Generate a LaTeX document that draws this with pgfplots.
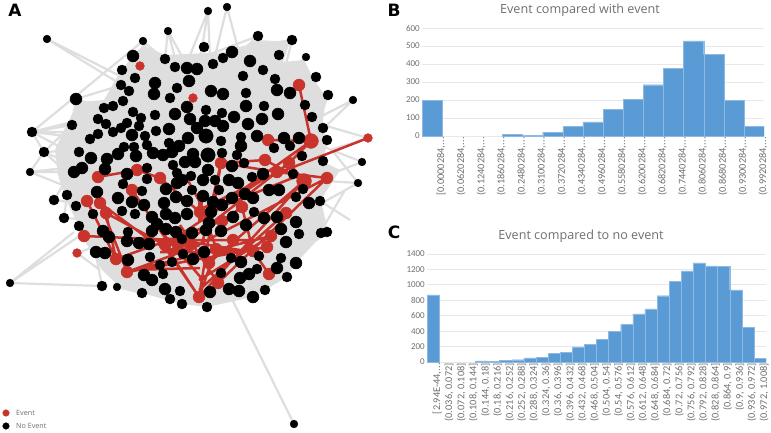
\documentclass[border=0pt]{standalone}
\usepackage{pgfplots}
\pgfplotsset{compat=1.18}
\usepackage{fontspec}
\setmainfont{Carlito}
\newfontfamily\titlefont{Open Sans}
\newfontfamily\panelfont{DejaVu Sans}
\definecolor{netgray}{HTML}{DEDEDE}
\definecolor{evred}{HTML}{C8332B}
\definecolor{barblue}{HTML}{5B9BD5}
\definecolor{baredge}{HTML}{8DB9E2}
\definecolor{txtgray}{HTML}{6E6E6E}
\def\dd{.\kern0.3pt.\kern0.3pt.}
\pgfplotsset{
 hist/.style={
  scale only axis, ybar, bar width=1, bar shift=0pt,
  axis x line*=bottom, axis y line*=left,
  axis line style={draw=none},
  major tick length=0pt,
  ymajorgrids, major grid style={draw=black!9,line width=0.8pt},
  ymin=0,
  x tick label style={rotate=90,anchor=east,font=\fontsize{10.3pt}{11pt}\selectfont,text=txtgray,inner sep=1pt},
  y tick label style={font=\fontsize{9pt}{10pt}\selectfont,text=txtgray,inner sep=2pt},
  /pgf/number format/assume math mode=true,
  /pgf/number format/1000 sep={},
 }
}
\begin{document}
\begin{tikzpicture}[x=1pt,y=1pt]
\path[use as bounding box] (0,0) rectangle (771,432);
\begin{axis}[at={(0,0)},anchor=south west,scale only axis,width=771pt,height=432pt,
 xmin=0,xmax=771,ymin=0,ymax=432,y dir=reverse,axis lines=none,clip=false,unbounded coords=jump]
% cloud
\addplot[fill=netgray,draw=none] coordinates {(143,45)(165,55)(232,52)(258,40)(290,42)(283,62)(304,60)(314,80)(326,97)(322,128)(328,142)(322,161)(340,170)(320,201)(325,232)(296,263)(287,277)(265,290)(253,297)(207,307)(182,304)(142,293)(120,287)(102,270)(84,240)(79,226)(66,200)(58,175)(55,150)(64,130)(78,102)(104,100)(121,70)} --cycle;
% edges
\addplot[draw=netgray,line width=2.2pt] coordinates {
(47,39)(118,75) (nan,nan) (47,39)(122,85) (nan,nan) (143,41)(32,132) (nan,nan) (143,41)(150,60) (nan,nan) (143,41)(165,60) (nan,nan)
(168,31)(165,58) (nan,nan) (168,31)(185,62) (nan,nan) (168,31)(176,62) (nan,nan) (208,11)(188,60) (nan,nan) (208,11)(210,58) (nan,nan) (208,11)(200,60) (nan,nan)
(227,7)(215,56) (nan,nan) (227,7)(240,56) (nan,nan) (258,36)(205,56) (nan,nan) (258,36)(230,62) (nan,nan) (258,36)(250,70) (nan,nan) (292,40)(225,50) (nan,nan) (292,40)(270,62) (nan,nan) (292,40)(282,80) (nan,nan)
(306,57)(272,85) (nan,nan) (306,57)(288,88) (nan,nan) (316,77)(285,76) (nan,nan) (316,77)(300,108) (nan,nan) (316,77)(310,115) (nan,nan) (328,95)(312,118) (nan,nan) (328,95)(316,130) (nan,nan)
(353,100)(318,118) (nan,nan) (353,100)(325,127) (nan,nan) (368,138)(323,125) (nan,nan) (368,138)(330,150) (nan,nan) (362,162)(312,142) (nan,nan) (362,162)(320,178) (nan,nan)
(358,183)(310,180) (nan,nan) (358,183)(322,203) (nan,nan) (358,183)(332,150) (nan,nan) (327,232)(320,201) (nan,nan) (327,232)(300,212) (nan,nan) (327,232)(290,260) (nan,nan)
(294,424)(225,285) (nan,nan) (10,283)(74,232) (nan,nan) (10,283)(78,237) (nan,nan) (10,283)(102,286) (nan,nan) (102,286)(95,250) (nan,nan) (117,287)(108,255) (nan,nan) (117,287)(142,293) (nan,nan)
(32,132)(110,132) (nan,nan) (32,132)(100,140) (nan,nan) (32,132)(85,160) (nan,nan) (32,132)(44,152) (nan,nan) (32,132)(72,125) (nan,nan) (32,132)(100,115) (nan,nan) (44,152)(85,150) (nan,nan) (44,152)(110,180) (nan,nan) (44,152)(92,195) (nan,nan)
(76,99)(104,108) (nan,nan) (76,99)(122,85) (nan,nan) (76,99)(110,118) (nan,nan) (72,125)(76,99) (nan,nan) (72,125)(100,135) (nan,nan) (72,125)(85,155) (nan,nan) (72,125)(44,152) (nan,nan) (30,172)(44,152) (nan,nan) (30,172)(72,172) (nan,nan) (30,172)(64,168) (nan,nan) (30,172)(75,190) (nan,nan)
(54,200)(90,205) (nan,nan) (54,200)(75,165) (nan,nan) (64,218)(95,220) (nan,nan) (64,218)(70,175) (nan,nan) (77,253)(100,270) (nan,nan) (77,253)(100,245) (nan,nan) (320,201)(350,220) (nan,nan) (320,233)(345,190) (nan,nan)
};
% red edges
\addplot[draw=evred,line width=2.5pt] coordinates {
(299,85)(311,141) (nan,nan) (268,140)(311,141) (nan,nan) (311,141)(289,163) (nan,nan) (311,141)(221,205) (nan,nan) (368,138)(265,178) (nan,nan) (265,178)(165,245) (nan,nan) (327,178)(188,250) (nan,nan) (327,178)(277,172) (nan,nan)
(98,177)(137,170) (nan,nan) (137,170)(160,178) (nan,nan) (160,178)(215,225) (nan,nan) (132,190)(170,245) (nan,nan) (87,201)(116,259) (nan,nan) (100,203)(127,272) (nan,nan) (106,213)(165,245) (nan,nan) (100,203)(150,240) (nan,nan)
(84,236)(175,240) (nan,nan) (116,259)(106,213) (nan,nan) (127,272)(200,245) (nan,nan) (127,272)(271,236) (nan,nan) (199,297)(165,245) (nan,nan) (199,297)(221,163) (nan,nan) (199,297)(304,181) (nan,nan) (209,263)(304,181) (nan,nan) (218,283)(327,178) (nan,nan)
(269,274)(253,251) (nan,nan) (253,251)(216,249) (nan,nan) (127,272)(267,247) (nan,nan) (116,259)(222,221) (nan,nan) (221,163)(203,240) (nan,nan) (221,163)(277,172) (nan,nan) (265,160)(304,181) (nan,nan) (265,160)(221,163) (nan,nan) (289,163)(277,172) (nan,nan) (277,172)(190,240) (nan,nan)
(289,163)(304,181) (nan,nan) (242,207)(253,251) (nan,nan) (242,207)(222,221) (nan,nan) (199,297)(160,240) (nan,nan) (286,213)(199,290) (nan,nan) (271,236)(199,280) (nan,nan) (203,208)(185,175) (nan,nan) (203,208)(265,178) (nan,nan) (150,240)(250,240) (nan,nan)
(160,252)(240,252) (nan,nan) (165,238)(240,250) (nan,nan) (130,270)(200,268) (nan,nan) (216,249)(199,297) (nan,nan) (160,230)(203,280) (nan,nan) (180,225)(218,283) (nan,nan) (200,215)(300,175) (nan,nan) (203,212)(215,245) (nan,nan)
};
\addplot[draw=evred,line width=5pt] coordinates {(158,243)(190,243) (nan,nan) (162,250)(185,250) (nan,nan) (200,200)(200,222)};
% red nodes
\addplot[only marks,mark=*,mark size=6pt,color=evred,mark options={draw=none}] coordinates {(299,85)(268,140)(98,177)(137,170)(160,178)(132,190)(87,201)(100,203)(106,213)(84,236)(116,259)(127,272)(199,297)(221,163)(265,160)(289,163)(277,172)(327,178)(242,207)(222,221)(271,236)(267,247)(253,251)(216,249)(218,283)(269,274)(233,240)(209,263)(286,213)(200,212)(165,245)(178,245)(190,245)};
\addplot[only marks,mark=*,mark size=7.4pt,color=evred,mark options={draw=none}] coordinates {(311,141)(304,181)};
\addplot[only marks,mark=*,mark size=4.4pt,color=evred,mark options={draw=none}] coordinates {(140,66)(193,98)(77,253)(368,138)};
% black nodes
\addplot[only marks,mark=*,mark size=3.9pt,color=black,mark options={draw=none}] coordinates {(47,39)(143,41)(168,31)(208,11)(227,7)(306,57)(353,100)(30,172)(10,283)(294,424)(362,162)(358,183)(117,287)};
\addplot[only marks,mark=*,mark size=5pt,color=black,mark options={draw=none}] coordinates {(165,59)(122,70)(135,78)(121,85)(129,91)(177,88)(170,98)(123,101)(113,106)(104,108)(133,112)(175,67)(98,119)(106,124)(141,118)(155,115)(72,125)(127,123)(139,126)(121,128)(113,132)(32,132)(98,134)(90,139)(145,136)(156,131)(169,143)(147,145)(124,147)(134,147)(44,152)(79,152)(204,47)(258,36)(292,40)(279,55)(223,58)(213,64)(263,70)(243,76)(316,77)(275,79)(246,93)(328,95)(305,105)(264,106)(206,110)(222,113)(312,117)(323,128)(221,141)(241,137)(327,140)(290,146)(274,148)(147,168)(147,179)(123,184)(142,191)(54,200)(67,195)(76,206)(93,214)(122,211)(135,214)(64,218)(79,226)(128,232)(150,257)(163,274)(160,265)(102,286)(142,293)(180,291)(170,299)(182,239)(183,254)(172,262)(192,190)(191,176)(177,173)(173,165)(222,153)(237,155)(302,156)(323,161)(293,174)(252,177)(244,163)(215,180)(219,190)(303,189)(296,197)(320,201)(254,212)(299,234)(321,233)(327,232)(259,256)(231,258)(281,258)(257,269)(287,277)(221,273)(265,290)(182,304)(207,307)};
\addplot[only marks,mark=*,mark size=6pt,color=black,mark options={draw=none}] coordinates {(133,56)(155,83)(154,94)(76,99)(187,107)(189,81)(187,68)(197,69)(175,114)(190,119)(169,129)(197,128)(188,138)(179,146)(132,135)(232,52)(250,61)(211,91)(223,94)(277,90)(290,93)(246,106)(278,114)(234,117)(262,119)(205,121)(215,121)(223,126)(248,124)(257,136)(284,138)(299,138)(241,146)(91,158)(107,159)(105,169)(118,154)(136,156)(82,168)(74,172)(127,174)(97,192)(118,198)(132,202)(144,205)(103,231)(109,237)(127,241)(139,243)(96,252)(105,253)(128,260)(144,275)(152,280)(165,289)(152,217)(152,231)(149,244)(157,224)(166,229)(166,214)(175,218)(164,203)(187,214)(176,232)(192,233)(193,259)(166,189)(176,197)(187,201)(177,183)(182,180)(185,162)(195,162)(193,154)(153,153)(163,155)(172,152)(208,170)(203,180)(229,180)(238,183)(263,174)(232,166)(269,190)(279,190)(309,203)(253,198)(245,194)(232,198)(203,196)(213,202)(222,205)(211,212)(277,217)(264,218)(233,217)(209,223)(246,225)(296,222)(206,230)(221,231)(281,229)(286,242)(204,252)(241,262)(296,263)(277,268)(249,274)(240,278)(229,289)(239,291)(210,292)(253,297)};
\addplot[only marks,mark=*,mark size=7.2pt,color=black,mark options={draw=none}] coordinates {(206,136)(208,155)};
% legend
\addplot[only marks,mark=*,mark size=3.3pt,color=evred,mark options={draw=none}] coordinates {(6,413)};
\addplot[only marks,mark=*,mark size=3.3pt,color=black,mark options={draw=none}] coordinates {(6,426)};
\node[anchor=west,inner sep=0pt,text=txtgray,font=\titlefont\fontsize{7.2pt}{8pt}\selectfont] at (axis cs:16,413) {Event};
\node[anchor=west,inner sep=0pt,text=txtgray,font=\titlefont\fontsize{7.2pt}{8pt}\selectfont] at (axis cs:16,426) {No Event};
\node[font=\panelfont\bfseries\fontsize{17pt}{18pt}\selectfont,inner sep=0pt] at (axis cs:15,10) {A};
\node[font=\panelfont\bfseries\fontsize{17pt}{18pt}\selectfont,inner sep=0pt] at (axis cs:394,10) {B};
\node[font=\panelfont\bfseries\fontsize{17pt}{18pt}\selectfont,inner sep=0pt] at (axis cs:394,232) {C};
\node[font=\titlefont\fontsize{12.6pt}{13pt}\selectfont,text=txtgray,inner sep=0pt] at (axis cs:580,10) {Event compared with event};
\node[font=\titlefont\fontsize{12.6pt}{13pt}\selectfont,text=txtgray,inner sep=0pt] at (axis cs:581,236) {Event compared to no event};
\end{axis}
% B
\begin{axis}[hist,at={(422pt,296pt)},anchor=south west,width=342pt,height=108pt,
 xmin=-0.5,xmax=16.5,ymax=600,ytick={0,100,200,300,400,500,600},
 xtick={0,1,2,3,4,5,6,7,8,9,10,11,12,13,14,15,16},
 xticklabels={{[0.0000284,\dd},{(0.0620284,\dd},{(0.1240284,\dd},{(0.1860284,\dd},{(0.2480284,\dd},{(0.3100284,\dd},{(0.3720284,\dd},{(0.4340284,\dd},{(0.4960284,\dd},{(0.5580284,\dd},{(0.6200284,\dd},{(0.6820284,\dd},{(0.7440284,\dd},{(0.8060284,\dd},{(0.8680284,\dd},{(0.9300284,\dd},{(0.9920284,\dd}},
 x tick label style={yshift=-9pt}]
\addplot[fill=barblue,draw=baredge,line width=0.3pt] coordinates {(0,197)(4,8)(5,5)(6,22)(7,52)(8,78)(9,150)(10,205)(11,285)(12,375)(13,528)(14,452)(15,200)(16,55)};
\end{axis}
% C
\begin{axis}[hist,at={(427pt,70pt)},anchor=south west,width=339pt,height=108pt,
 xmin=-0.5,xmax=27.5,ymax=1400,ytick={0,200,400,600,800,1000,1200,1400},
 xtick={0,1,2,3,4,5,6,7,8,9,10,11,12,13,14,15,16,17,18,19,20,21,22,23,24,25,26,27},
 xticklabels={{[2.94E-44,\dd},{(0.036, 0.072]},{(0.072, 0.108]},{(0.108, 0.144]},{(0.144, 0.18]},{(0.18, 0.216]},{(0.216, 0.252]},{(0.252, 0.288]},{(0.288, 0.324]},{(0.324, 0.36]},{(0.36, 0.396]},{(0.396, 0.432]},{(0.432, 0.468]},{(0.468, 0.504]},{(0.504, 0.54]},{(0.54, 0.576]},{(0.576, 0.612]},{(0.612, 0.648]},{(0.648, 0.684]},{(0.684, 0.72]},{(0.72, 0.756]},{(0.756, 0.792]},{(0.792, 0.828]},{(0.828, 0.864]},{(0.864, 0.9]},{(0.9, 0.936]},{(0.936, 0.972]},{(0.972, 1.008]}},
 x tick label style={yshift=-4pt}]
\addplot[fill=barblue,draw=baredge,line width=0.3pt] coordinates {(0,870)(4,15)(5,5)(6,20)(7,30)(8,55)(9,60)(10,110)(11,125)(12,195)(13,225)(14,295)(15,395)(16,485)(17,625)(18,690)(19,860)(20,1050)(21,1180)(22,1285)(23,1245)(24,1240)(25,935)(26,450)(27,50)};
\end{axis}
\end{tikzpicture}
\end{document}
